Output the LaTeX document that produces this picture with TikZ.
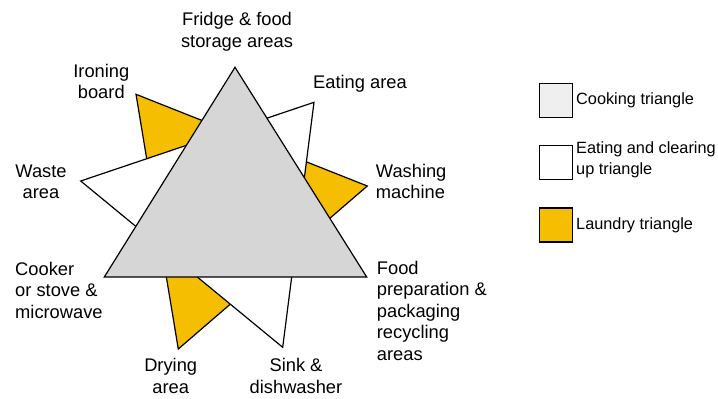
\documentclass[tikz,border=0pt]{standalone}
\usepackage{fontspec}
\setmainfont{Liberation Sans}
\definecolor{cookgray}{HTML}{D6D6D6}
\definecolor{leggray}{HTML}{EFEFEF}
\definecolor{laundry}{HTML}{F6BE00}
\tikzset{
  tri/.style={draw=black, line width=1.2pt, line join=miter},
  lab/.style={font=\fontsize{18.3}{21.5}\selectfont, inner sep=0pt},
  legtxt/.style={font=\fontsize{16.3}{20.5}\selectfont, inner sep=0pt, anchor=north west, align=left},
  legbox/.style={draw=black, line width=1.2pt, minimum width=33pt, minimum height=34pt, inner sep=0pt}
}
\begin{document}
\begin{tikzpicture}[x=1pt,y=-1pt]
\useasboundingbox (0,0) rectangle (718,399);
% laundry triangle vertices
\coordinate (iron) at (136,94.3);
\coordinate (wash) at (367.3,186);
\coordinate (dry) at (178.3,349);
% eating triangle vertices
\coordinate (eat) at (314,102.3);
\coordinate (waste) at (80.7,181);
\coordinate (sink) at (282.7,347.3);
% cooking triangle vertices
\coordinate (fridge) at (235,67.3);
\coordinate (cooker) at (104.3,277);
\coordinate (food) at (366.7,277);

\filldraw[tri, fill=laundry] (iron) -- (wash) -- (dry) -- cycle;
\filldraw[tri, fill=white] (eat) -- (waste) -- (sink) -- cycle;
\filldraw[tri, fill=cookgray] (fridge) -- (cooker) -- (food) -- cycle;

% labels
\node[lab, anchor=north, align=center] (lfridge) at (237,12.4) {Fridge \& food\\storage areas};
\node[lab, anchor=north, align=center] (liron) at (101.3,64) {Ironing\\board};
\node[lab, anchor=north west, align=left] (leat) at (313,75) {Eating area};
\node[lab, anchor=north, align=center] (lwaste) at (41,164.5) {Waste\\area};
\node[lab, anchor=north west, align=left] (lwash) at (375.7,164) {Washing\\machine};
\node[lab, anchor=north west, align=left] (lcook) at (15,261.7) {Cooker\\or stove \&\\microwave};
\node[lab, anchor=north west, align=left] (lfood) at (376.7,261) {Food\\preparation \&\\packaging\\recycling\\areas};
\node[lab, anchor=north, align=center] (ldry) at (170.7,358.4) {Drying\\area};
\node[lab, anchor=north, align=center] (lsink) at (296,358.4) {Sink \&\\dishwasher};

% legend
\node[legbox, fill=leggray, anchor=north west] (b1) at (539,82.5) {};
\node[legbox, fill=white, anchor=north west] (b2) at (539,144.5) {};
\node[legbox, fill=laundry, anchor=north west] (b3) at (539,207.3) {};
\node[legtxt] (t1) at (576,92.2) {Cooking triangle};
\node[legtxt] (t2) at (576,141.9) {Eating and clearing\\up triangle};
\node[legtxt] (t3) at (576,217.9) {Laundry triangle};
\end{tikzpicture}
\end{document}
